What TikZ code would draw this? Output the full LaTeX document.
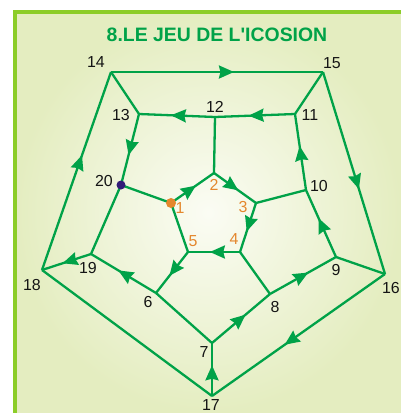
\documentclass[tikz,border=0pt]{standalone}
\usepackage{fontspec}
\setmainfont{Liberation Sans}
\usetikzlibrary{arrows.meta,decorations.markings}
\definecolor{IcoGreen}{RGB}{0,162,72}
\definecolor{IcoLime}{RGB}{140,205,40}
\definecolor{IcoPale}{RGB}{228,237,192}
\definecolor{IcoLight}{RGB}{251,252,244}
\definecolor{IcoOrange}{RGB}{228,135,45}
\definecolor{IcoPurple}{RGB}{50,28,120}
\definecolor{IcoDark}{RGB}{20,20,20}

\tikzset{
  edge/.style={IcoGreen, line width=2.3bp},
  dir/.style={edge, postaction={decorate},
    decoration={markings, mark=at position 0.58 with {\arrow{Stealth[length=15bp,width=13bp,inset=1.5bp]}}}},
  num/.style={font=\fontsize{16}{16}\selectfont, text=IcoDark, inner sep=0pt},
  inum/.style={num, text=IcoOrange}
}

\begin{document}
\begin{tikzpicture}[x=1bp,y=-1bp]
  \useasboundingbox (0,0) rectangle (401,413);
  % panel: pale background, lime border on left and top only
  \fill[white] (0,0) rectangle (401,413);
  \shade[inner color=IcoLight, outer color=IcoPale] (15,12) rectangle (401,413);
  \draw[IcoLime, line width=4bp] (15,413) -- (15,12) -- (401,12);

  \node[font=\bfseries\fontsize{19.5}{19.5}\selectfont, text=IcoGreen] (title) at (217,35) {8.LE JEU DE L\textquotesingle ICOSION};

  % vertices of the dodecahedron graph (pixel positions)
  \foreach \n/\x/\y in {
    1/171/203, 2/214/173, 3/256/203, 4/240/252, 5/188/252,
    6/156/293, 7/212/343, 8/270/294, 9/336/257, 10/306/190,
    11/295/114, 12/215/117, 13/139/114, 14/111/72, 15/323/72,
    16/385/274, 17/212/396, 18/42/270, 19/91/254, 20/121/185
  }{
    \coordinate (v\n) at (\x,\y);
  }

  % edges without arrow
  \foreach \a/\b in {17/18, 7/6, 19/20, 14/13, 15/11, 16/9, 5/1, 4/8, 3/10, 2/12, 1/20}{
    \draw[edge] (v\a) -- (v\b);
  }
  % edges of the Hamilton cycle, with arrow
  \foreach \a/\b in {1/2, 2/3, 3/4, 4/5, 5/6, 6/19, 19/18, 18/14, 14/15, 15/16,
                     16/17, 17/7, 7/8, 8/9, 9/10, 10/11, 11/12, 12/13, 13/20}{
    \draw[dir] (v\a) -- (v\b);
  }

  % start and end points
  \fill[IcoOrange] (v1) circle (5);
  \fill[IcoPurple] (v20) circle (4.5);

  % labels
  \foreach \n/\x/\y in {1/180/208, 2/214/185, 3/243/207, 4/234/239, 5/193/241}{
    \node[inum] (n\n) at (\x,\y) {\n};
  }
  \foreach \n/\x/\y in {
    6/148/302, 7/204/352, 8/275/307, 9/336/270, 10/319/186,
    11/310/115, 12/215/107, 13/121/115, 14/96/62, 15/332/63,
    16/391/288, 17/211/405, 18/32/285, 19/88/268, 20/104/181
  }{
    \node[num] (n\n) at (\x,\y) {\n};
  }
\end{tikzpicture}
\end{document}
